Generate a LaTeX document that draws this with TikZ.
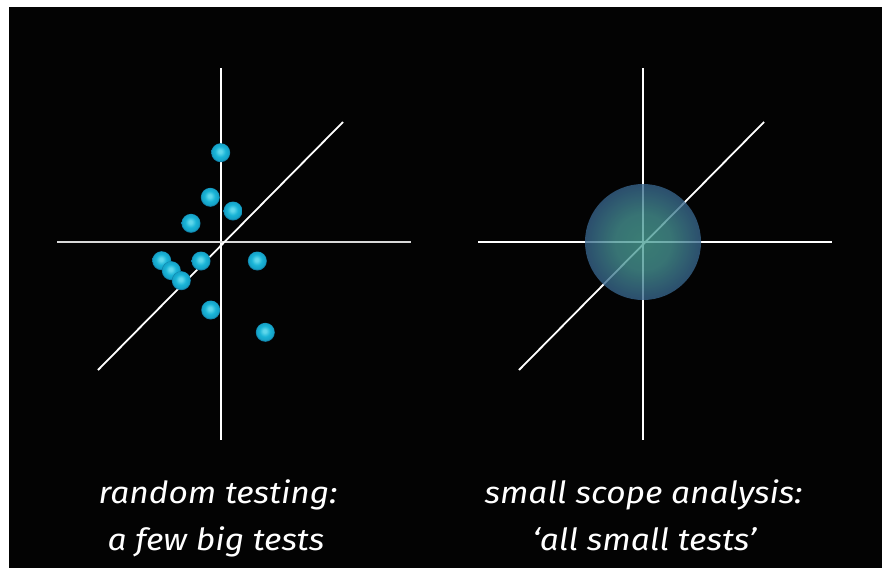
\documentclass[tikz,border=0pt]{standalone}
\usepackage{fontspec}
\setmainfont{Fira Sans}
\definecolor{bgblack}{RGB}{3,3,3}
\definecolor{ballhi}{RGB}{95,215,235}
\definecolor{ballmid}{RGB}{25,180,215}
\definecolor{balledge}{RGB}{15,120,160}
\definecolor{sphin}{RGB}{75,160,150}
\definecolor{sphout}{RGB}{55,100,140}
\pgfdeclareradialshading{testball}{\pgfpoint{-2bp}{4bp}}{color(0bp)=(ballhi); color(4bp)=(ballhi); color(14bp)=(ballmid); color(22bp)=(ballmid!70!balledge); color(25bp)=(balledge); color(50bp)=(balledge)}
\pgfdeclareradialshading{scopeball}{\pgfpoint{0bp}{0bp}}{color(0bp)=(sphin); color(12bp)=(sphin!80!sphout); color(25bp)=(sphout); color(50bp)=(sphout)}
\tikzset{
  axis/.style={draw=white, line width=1.8pt},
  dotnode/.style={circle, inner sep=0pt, minimum size=19pt, shading=testball},
  caption/.style={text=white, font=\fontsize{30.5}{47}\selectfont\itshape, anchor=base},
}
\newcommand{\widecap}[1]{\scalebox{1.1}[1]{#1}}
\begin{document}
\begin{tikzpicture}[x=1pt,y=-1pt]
\useasboundingbox (0,0) rectangle (882,568);
\fill[white] (0,0) rectangle (882,568);
\fill[bgblack] (9,7) rectangle (882,568);
% left plot
\coordinate (lt) at (221,68); \coordinate (lb) at (221,440);
\coordinate (ll) at (57,242); \coordinate (lr) at (411,242);
\coordinate (ld1) at (98,370); \coordinate (ld2) at (343,122);
\draw[axis] (lt) -- (lb);
\draw[axis, draw=white!85!black] (ll) -- (lr);
\draw[axis] (ld1) -- (ld2);
\node[dotnode] (d1) at (220.7,152.7) {};
\node[dotnode] (d2) at (210.3,197.3) {};
\node[dotnode] (d3) at (233,211) {};
\node[dotnode] (d4) at (191,223.3) {};
\node[dotnode] (d5) at (161.7,260.7) {};
\node[dotnode] (d6) at (171.3,270.7) {};
\node[dotnode] (d7) at (181.3,280.7) {};
\node[dotnode] (d8) at (201,261) {};
\node[dotnode] (d9) at (257.3,261) {};
\node[dotnode] (d10) at (210.7,310) {};
\node[dotnode] (d11) at (265.3,332.3) {};
% right plot
\coordinate (rt) at (643,68); \coordinate (rb) at (643,440);
\coordinate (rl) at (478,242); \coordinate (rr) at (832,242);
\coordinate (rd1) at (519,370); \coordinate (rd2) at (764,122);
\draw[axis] (rt) -- (rb);
\draw[axis] (rl) -- (rr);
\draw[axis] (rd1) -- (rd2);
\node[circle, inner sep=0pt, minimum size=116pt, shading=scopeball, opacity=0.78] (scope) at (643,242) {};
% captions
\node[caption] (c1) at (218,503) {\widecap{random testing:}};
\node[caption] (c2) at (216,550) {\widecap{a few big tests}};
\node[caption] (c3) at (643.5,503) {\widecap{small scope analysis:}};
\node[caption] (c4) at (644.5,550) {\widecap{‘all small tests’}};
\end{tikzpicture}
\end{document}
